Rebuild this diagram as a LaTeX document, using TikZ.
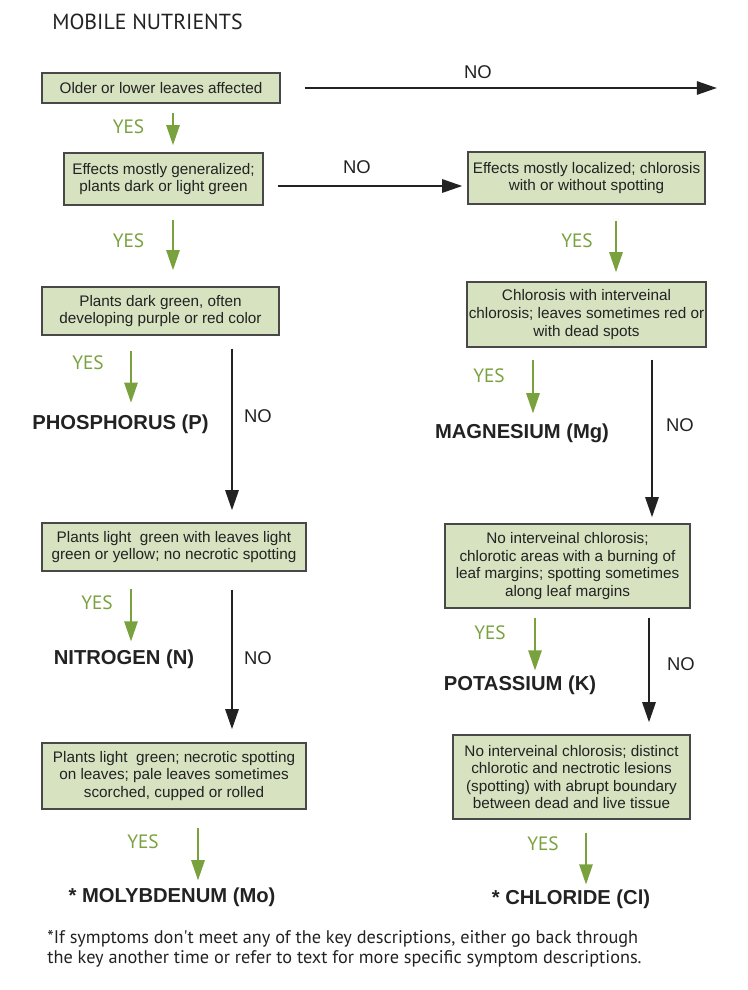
\documentclass[tikz,border=0pt]{standalone}
\usepackage{fontspec}
\setmainfont{Liberation Sans}
\newfontfamily\myriad{PT Sans}
\usetikzlibrary{arrows.meta,positioning}
\definecolor{boxfill}{RGB}{214,226,192}
\definecolor{boxline}{RGB}{72,72,72}
\definecolor{yesgreen}{RGB}{121,161,62}
\definecolor{inkgray}{RGB}{34,34,34}
\begin{document}
\begin{tikzpicture}[x=0.02cm, y=-0.02cm,
    keybox/.style={draw=boxline, line width=0.8pt, fill=boxfill, align=center,
      inner sep=1pt, text=inkgray, font=\fontsize{8.7}{10}\selectfont},
    boxsize/.style 2 args={minimum width=#1*0.02cm, minimum height=#2*0.02cm},
    result/.style={font=\fontsize{11.5}{13}\selectfont\bfseries, text=inkgray,
      inner sep=0pt, text height=8.2pt, text depth=0pt},
    yeslbl/.style={font=\myriad\fontsize{11}{13}\selectfont, text=yesgreen},
    nolbl/.style={font=\fontsize{10.5}{12}\selectfont, text=inkgray},
    yesarr/.style={draw=yesgreen, line width=1.3pt, -{Triangle[length=11.5pt,width=7.5pt]}},
    noarr/.style={draw=inkgray, line width=1.4pt, -{Triangle[length=11.5pt,width=7.5pt]}}]
  \useasboundingbox (0,0) rectangle (747,990);

  % Titel
  \node[anchor=west, inner sep=0pt, font=\myriad\fontsize{12.4}{15}\selectfont, text=inkgray] (title) at (52,22) {MOBILE NUTRIENTS};

  % Linke Spalte
  \node[keybox, boxsize={238}{30}] (older) at (161,88) {Older or lower leaves affected};
  \node[keybox, boxsize={199}{52}] (general) at (163.5,179) {Effects mostly generalized;\\plants dark or light green};
  \node[keybox, boxsize={237}{48}] (dark) at (160.5,311) {Plants dark green, often\\developing purple or red color};
  \node[keybox, boxsize={264}{48}] (light) at (174,547) {Plants light\ \ green with leaves light\\green or yellow; no necrotic spotting};
  \node[keybox, boxsize={264}{66}] (necrotic) at (174,776) {Plants light\ \ green; necrotic spotting\\on leaves; pale leaves sometimes\\scorched, cupped or rolled};

  % Rechte Spalte
  \node[keybox, boxsize={237}{52}] (local) at (586.5,178) {Effects mostly localized; chlorosis\\with or without spotting};
  \node[keybox, boxsize={237}{65}] (interv) at (586.5,314.5) {Chlorosis with interveinal\\chlorosis; leaves sometimes red or\\with dead spots};
  \node[keybox, boxsize={245}{84}] (burning) at (567.5,566) {No interveinal chlorosis;\\chlorotic areas with a burning of\\leaf margins; spotting sometimes\\along leaf margins};
  \node[keybox, boxsize={237}{84}] (lesions) at (571.5,777) {No interveinal chlorosis; distinct\\chlorotic and nectrotic lesions\\(spotting) with abrupt boundary\\between dead and live tissue};

  % Ergebnisse
  \node[result] (phos) at (120.5,422.7) {PHOSPHORUS (P)};
  \node[result] (nitro) at (124,657) {NITROGEN (N)};
  \node[result] (moly) at (172,895) {* MOLYBDENUM (Mo)};
  \node[result] (magn) at (522,431) {MAGNESIUM (Mg)};
  \node[result] (pota) at (520,683) {POTASSIUM (K)};
  \node[result] (chlor) at (571,897) {* CHLORIDE (Cl)};

  % Pfeile NO
  \coordinate (farright) at (717,88);
  \draw[noarr, shorten <=13.6pt] (older.east |- 0,88) -- (farright);
  \draw[noarr, shorten <=7.9pt, shorten >=2.8pt] (general.east |- 0,186) -- (local.west |- 0,186);
  \draw[noarr, shorten <=7.4pt, shorten >=6.8pt] (dark.south -| 232,0) -- (light.north -| 232,0);
  \draw[noarr, shorten <=10.2pt, shorten >=7.4pt] (light.south -| 232,0) -- (necrotic.north -| 232,0);
  \draw[noarr, shorten <=6.8pt, shorten >=3.4pt] (interv.south -| 652,0) -- (burning.north -| 652,0);
  \draw[noarr, shorten <=5.1pt, shorten >=6.8pt] (burning.south -| 649,0) -- (lesions.north -| 649,0);
  \node[nolbl] (no0) at (478,72) {NO};
  \node[nolbl] (no1) at (357,167) {NO};
  \node[nolbl] (no2) at (258,416) {NO};
  \node[nolbl] (no3) at (258,658) {NO};
  \node[nolbl] (no4) at (680,425) {NO};
  \node[nolbl] (no5) at (681,664) {NO};

  % Pfeile YES
  \draw[yesarr, shorten <=5.1pt, shorten >=4pt] (older.south -| 173,0) -- (general.north -| 173,0);
  \draw[yesarr, shorten <=7.9pt, shorten >=9.1pt] (general.south -| 173,0) -- (dark.north -| 173,0);
  \draw[yesarr, shorten <=9.1pt, shorten >=5.1pt] (local.south -| 616,0) -- (interv.north -| 616,0);
  \draw[yesarr, shorten <=8.5pt, shorten >=7pt] (dark.south -| 131,0) -- (phos.north -| 131,0);
  \draw[yesarr, shorten <=6.8pt, shorten >=5.7pt] (interv.south -| 533,0) -- (magn.north -| 533,0);
  \draw[yesarr, shorten <=9.6pt, shorten >=4.5pt] (light.south -| 131,0) -- (nitro.north -| 131,0);
  \draw[yesarr, shorten <=5.1pt, shorten >=2.8pt] (burning.south -| 535,0) -- (pota.north -| 535,0);
  \draw[yesarr, shorten <=10.2pt, shorten >=4pt] (necrotic.south -| 198,0) -- (moly.north -| 198,0);
  \draw[yesarr, shorten <=7.4pt, shorten >=2.8pt] (lesions.south -| 586,0) -- (chlor.north -| 586,0);
  \node[yeslbl] (yes1) at (128.5,127) {YES};
  \node[yeslbl] (yes2) at (128.5,241) {YES};
  \node[yeslbl] (yes3) at (577,241) {YES};
  \node[yeslbl] (yes4) at (88,363) {YES};
  \node[yeslbl] (yes5) at (489,376) {YES};
  \node[yeslbl] (yes6) at (97,603) {YES};
  \node[yeslbl] (yes7) at (490,633) {YES};
  \node[yeslbl] (yes8) at (143,842) {YES};
  \node[yeslbl] (yes9) at (543,844) {YES};

  % Fussnote
  \node[anchor=north west, align=left, inner sep=0pt, text=inkgray,
    font=\myriad\fontsize{10.4}{11.4}\selectfont] (note) at (47,930)
    {*If symptoms don't meet any of the key descriptions, either go back through\\
     the key another time or refer to text for more specific symptom descriptions.};
\end{tikzpicture}
\end{document}
